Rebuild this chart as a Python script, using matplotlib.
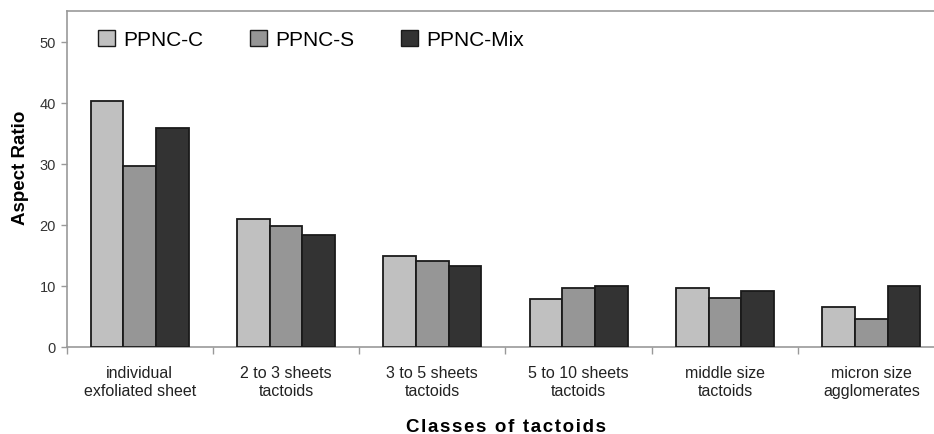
import numpy as np
import matplotlib
matplotlib.use("Agg")
import matplotlib.pyplot as plt

categories = ["individual\nexfoliated sheet", "2 to 3 sheets\ntactoids",
              "3 to 5 sheets\ntactoids", "5 to 10 sheets\ntactoids",
              "middle size\ntactoids", "micron size\nagglomerates"]
series_names = ["PPNC-C", "PPNC-S", "PPNC-Mix"]
ppnc_c = [40.2, 20.9, 14.9, 7.8, 9.7, 6.6]
ppnc_s = [29.6, 19.8, 14.1, 9.7, 8.0, 4.6]
ppnc_mix = [35.9, 18.4, 13.2, 10.0, 9.2, 10.0]
yticks = [0, 10, 20, 30, 40, 50]

colors = ["#c0c0c0", "#969696", "#333333"]

plt.rcParams['font.family'] = ['Liberation Sans', 'DejaVu Sans']

fig = plt.figure(figsize=(9.34, 4.35), dpi=100)
ax = fig.add_axes([66.5 / 934, 0.2, 878 / 934, 336 / 435])

x = np.arange(len(categories))
w = 0.223
for k, vals in enumerate([ppnc_c, ppnc_s, ppnc_mix]):
    ax.bar(x + (k - 1) * w, vals, width=w, color=colors[k], edgecolor="#1a1a1a",
           linewidth=1.3, label=series_names[k], zorder=3)

ax.set_xlim(-0.5, len(categories) - 0.5)
ax.set_ylim(0, 55)
ax.set_yticks(yticks)
ax.set_yticklabels([str(v) for v in yticks], color="#333333", fontsize=10.5)

ax.set_xticks(x)
ax.set_xticklabels(categories, fontsize=11.5, color="#222222", linespacing=1.25)
ax.tick_params(axis="x", length=0, pad=13)
ax.set_xticks(np.arange(-0.5, len(categories), 1.0), minor=True)
ax.tick_params(axis="x", which="minor", length=5, color="#999999", width=1)
ax.tick_params(axis="y", length=4, color="#999999", width=1)

for s in ax.spines.values():
    s.set_color("#999999")
    s.set_linewidth(1.2)

ax.set_ylabel("Aspect Ratio", fontsize=13.5, fontweight="bold")
ax.yaxis.set_label_coords(-0.043, 0.535)
# slightly spaced letters, like the original
xlab = "\u200a".join("Classes of tactoids")
ax.set_xlabel(xlab, fontsize=13.5, fontweight="bold")
ax.xaxis.set_label_coords(0.5, -0.21)

leg = ax.legend(loc="upper left", ncol=3, frameon=False, fontsize=15,
                bbox_to_anchor=(0.015, 1.0), handlelength=0.8, handleheight=0.8,
                columnspacing=2.25, handletextpad=0.4)
for h in leg.legend_handles:
    h.set_linewidth(1.0)

fig.savefig("out.png", dpi=100)
